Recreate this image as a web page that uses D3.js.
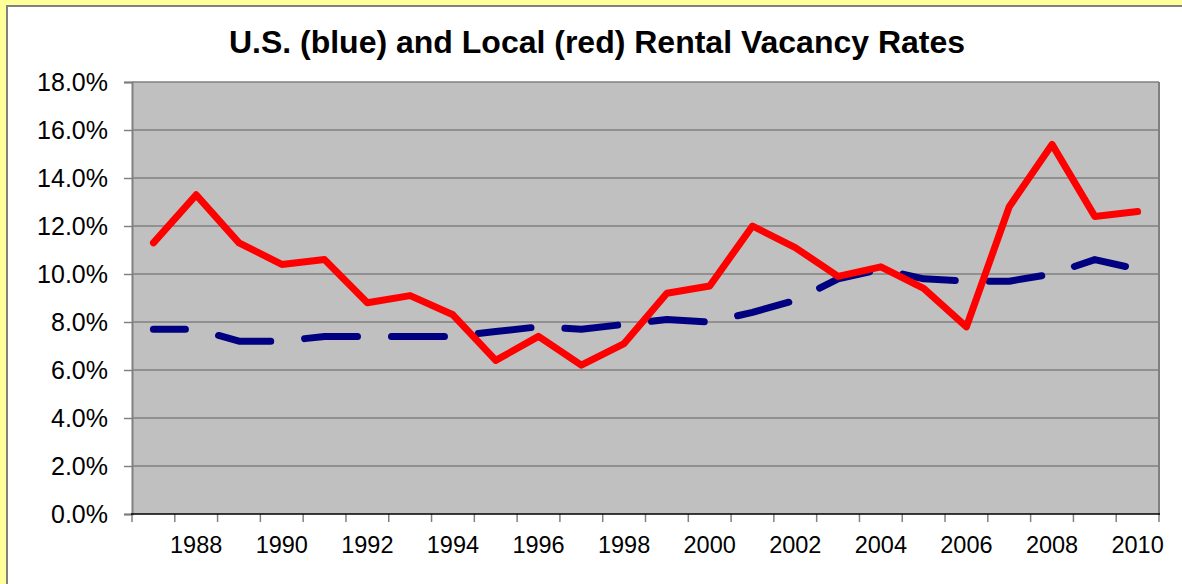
<!DOCTYPE html>
<html>
<head>
<meta charset="utf-8">
<script src="https://cdn.jsdelivr.net/npm/d3@7"></script>
<style>
  html, body { margin: 0; padding: 0; background: #FFFF99; }
  svg { display: block; font-family: "Liberation Sans", Arial, sans-serif; }
</style>
</head>
<body>
<svg id="chart"></svg>
<script>
var width = 1182,
    height = 584;

// data
var years = d3.range(1987, 2011);
var yearLabels = [1988, 1990, 1992, 1994, 1996, 1998, 2000, 2002, 2004, 2006, 2008, 2010];
var usRates = [7.7, 7.7, 7.2, 7.2, 7.4, 7.4, 7.4, 7.4, 7.6, 7.8, 7.7, 7.9,
               8.1, 8.0, 8.4, 8.9, 9.8, 10.2, 9.8, 9.7, 9.7, 10.0, 10.6, 10.2];
var localRates = [11.3, 13.3, 11.3, 10.4, 10.6, 8.8, 9.1, 8.3, 6.4, 7.4, 6.2, 7.1,
                  9.2, 9.5, 12.0, 11.1, 9.9, 10.3, 9.4, 7.8, 12.8, 15.4, 12.4, 12.6];
var yTicks = [0, 2, 4, 6, 8, 10, 12, 14, 16, 18];

var plot = { left: 132, right: 1159, top: 82, bottom: 514 };

var svg = d3.select("#chart")
    .attr("width", width)
    .attr("height", height);

// yellow frame with the white chart area inside
svg.append("rect")
    .attr("x", 0).attr("y", 0)
    .attr("width", width).attr("height", height)
    .attr("fill", "#FFFF99");
svg.append("rect")
    .attr("x", 7).attr("y", 6)
    .attr("width", width).attr("height", height)
    .attr("fill", "#FFFFFF")
    .attr("stroke", "#808080")
    .attr("stroke-width", 2);

svg.append("text")
    .attr("x", 597)
    .attr("y", 53)
    .attr("text-anchor", "middle")
    .attr("font-size", 32)
    .attr("font-weight", "bold")
    .text("U.S. (blue) and Local (red) Rental Vacancy Rates");

var x = d3.scaleBand()
    .domain(years)
    .range([plot.left, plot.right])
    .padding(0);

var y = d3.scaleLinear()
    .domain([0, 18])
    .range([plot.bottom, plot.top]);

var cx = function (d, i) { return x(years[i]) + x.bandwidth() / 2; };

// plot area
svg.append("rect")
    .attr("x", plot.left)
    .attr("y", plot.top)
    .attr("width", plot.right - plot.left)
    .attr("height", plot.bottom - plot.top)
    .attr("fill", "#C0C0C0");

// gridlines
svg.append("g")
    .selectAll("line")
    .data(yTicks.slice(1))
    .enter().append("line")
    .attr("x1", plot.left)
    .attr("x2", plot.right)
    .attr("y1", d => y(d))
    .attr("y2", d => y(d))
    .attr("stroke", "#808080")
    .attr("stroke-width", 1.5);

// right border
svg.append("line")
    .attr("x1", plot.right).attr("x2", plot.right)
    .attr("y1", plot.top).attr("y2", plot.bottom)
    .attr("stroke", "#808080")
    .attr("stroke-width", 2);

// y axis
var yAxis = d3.axisLeft(y)
    .tickValues(yTicks)
    .tickFormat(d => d.toFixed(1) + "%")
    .tickSize(8)
    .tickPadding(16);

var gy = svg.append("g")
    .attr("transform", "translate(" + plot.left + ",0)")
    .call(yAxis);
gy.select(".domain").attr("stroke", "#808080").attr("stroke-width", 2);
gy.selectAll(".tick line").attr("stroke", "#808080").attr("stroke-width", 1.5);
gy.selectAll(".tick text")
    .attr("font-size", 25)
    .attr("font-family", "Liberation Sans, Arial, sans-serif")
    .attr("fill", "#000");

// x axis: ticks on category boundaries, labels every second year
var boundaries = years.map(d => x(d)).concat([plot.right]);
svg.append("g")
    .selectAll("line")
    .data(boundaries)
    .enter().append("line")
    .attr("x1", d => d).attr("x2", d => d)
    .attr("y1", plot.bottom).attr("y2", plot.bottom + 8)
    .attr("stroke", "#808080")
    .attr("stroke-width", 1.5);

svg.append("line")
    .attr("x1", plot.left - 1).attr("x2", plot.right + 1)
    .attr("y1", plot.bottom).attr("y2", plot.bottom)
    .attr("stroke", "#000")
    .attr("stroke-width", 1.5);

var xAxis = d3.axisBottom(x)
    .tickValues(yearLabels)
    .tickSize(0)
    .tickPadding(22);

var gx = svg.append("g")
    .attr("transform", "translate(0," + plot.bottom + ")")
    .call(xAxis);
gx.select(".domain").remove();
gx.selectAll(".tick text")
    .attr("font-size", 23.5)
    .attr("font-family", "Liberation Sans, Arial, sans-serif")
    .attr("fill", "#000");

// series
var line = d3.line()
    .x(cx)
    .y(d => y(d));

svg.append("path")
    .datum(usRates)
    .attr("d", line)
    .attr("fill", "none")
    .attr("stroke", "#000080")
    .attr("stroke-width", 7)
    .attr("stroke-linecap", "round")
    .attr("stroke-linejoin", "round")
    .attr("stroke-dasharray", "53,34")
    .attr("stroke-dashoffset", 21);

svg.append("path")
    .datum(localRates)
    .attr("d", line)
    .attr("fill", "none")
    .attr("stroke", "#FF0000")
    .attr("stroke-width", 7)
    .attr("stroke-linecap", "round")
    .attr("stroke-linejoin", "round");
</script>
</body>
</html>
